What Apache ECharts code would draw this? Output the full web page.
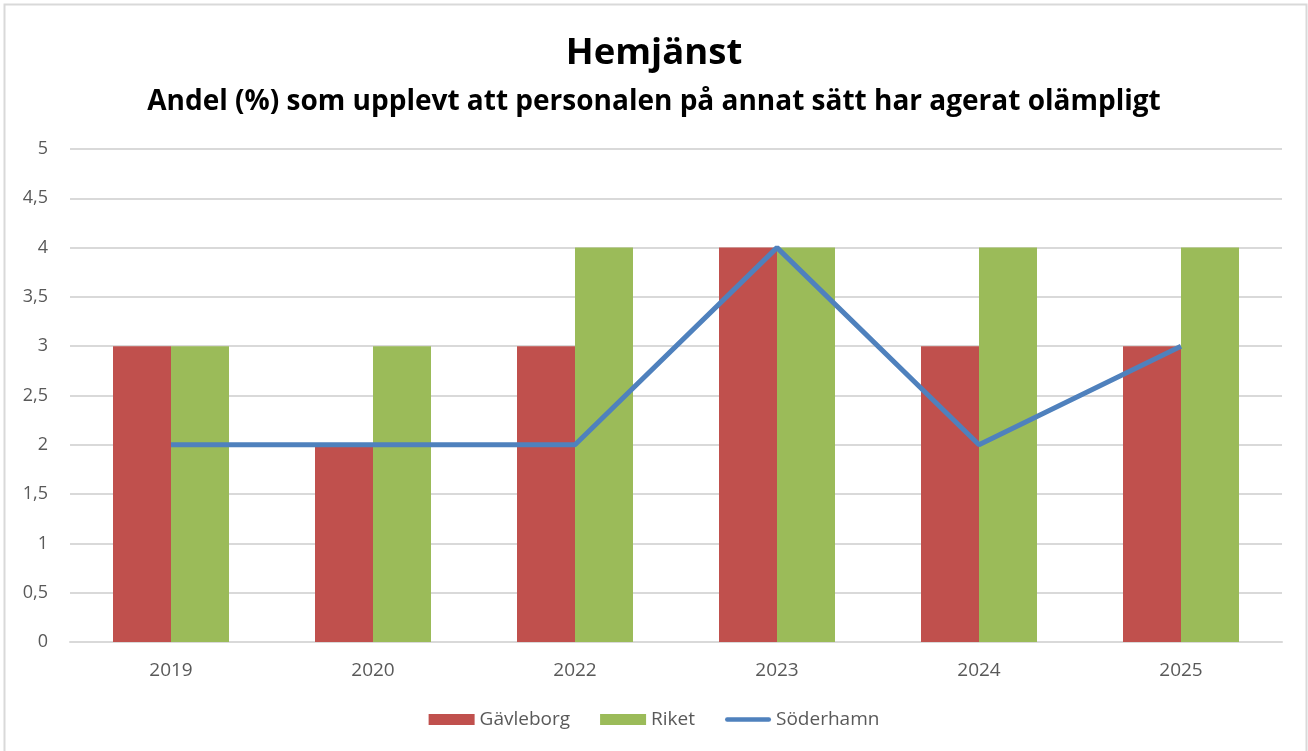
<!DOCTYPE html>
<html>
<head>
<meta charset="utf-8">
<script src="https://cdn.jsdelivr.net/npm/echarts@6/dist/echarts.min.js"></script>
<style>
  html, body { margin: 0; padding: 0; background: #fff; }
  #chart { width: 1308px; height: 751px; }
</style>
</head>
<body>
<div id="chart"></div>
<script>
// Survey years and shares (%) per region
const years = ['2019', '2020', '2022', '2023', '2024', '2025'];
const gavleborg = [3, 2, 3, 4, 3, 3];
const riket = [3, 3, 4, 4, 4, 4];
const soderhamn = [2, 2, 2, 4, 2, 3];

const titleText = 'Hemjänst';
const subtitleText = 'Andel (%) som upplevt att personalen på annat sätt har agerat olämpligt';

const FONT = '"Open Sans", "DejaVu Sans", sans-serif';
const chart = echarts.init(document.getElementById('chart'), null, { renderer: 'canvas' });

chart.setOption({
  backgroundColor: '#ffffff',
  animation: false,
  graphic: [{
    type: 'rect',
    shape: { x: 4.5, y: 4.5, width: 1302, height: 760 },
    style: { fill: 'none', stroke: '#d9d9d9', lineWidth: 2 },
    silent: true
  }],
  title: [{
    text: titleText,
    left: 'center',
    top: 35,
    padding: 0,
    textStyle: { fontFamily: FONT, fontWeight: 'bold', fontSize: 36.5, color: '#000' }
  }, {
    text: subtitleText,
    left: 'center',
    top: 88,
    padding: 0,
    textStyle: { fontFamily: FONT, fontWeight: 'bold', fontSize: 28, color: '#000' }
  }],
  legend: {
    bottom: 22,
    left: 'center',
    itemWidth: 46,
    itemHeight: 11,
    itemGap: 30,
    padding: 0,
    textStyle: { fontFamily: FONT, fontSize: 19, color: '#595959' },
    data: [
      { name: 'Gävleborg', icon: 'rect' },
      { name: 'Riket', icon: 'rect' },
      { name: 'Söderhamn', icon: 'path://M2,0 L50,0 A2.5,2.5 0 0 1 50,5 L2,5 A2.5,2.5 0 0 1 2,0 Z' }
    ]
  },
  grid: { left: 70, right: 26, top: 149, bottom: 109, containLabel: false },
  xAxis: {
    type: 'category',
    data: years,
    axisLine: { show: true, lineStyle: { color: '#d9d9d9', width: 2 } },
    axisTick: { show: false },
    axisLabel: { fontFamily: FONT, fontSize: 19, color: '#595959', margin: 19 }
  },
  yAxis: {
    type: 'value',
    min: 0,
    max: 5,
    interval: 0.5,
    axisLine: { show: false },
    axisTick: { show: false },
    splitLine: { lineStyle: { color: '#d9d9d9', width: 2 } },
    axisLabel: {
      fontFamily: FONT, fontSize: 18, color: '#595959', margin: 22,
      formatter: v => String(v).replace('.', ',')
    }
  },
  series: [{
    name: 'Gävleborg',
    type: 'bar',
    data: gavleborg,
    barWidth: 58,
    barGap: '0%',
    itemStyle: { color: '#c0504d' }
  }, {
    name: 'Riket',
    type: 'bar',
    data: riket,
    barWidth: 58,
    barGap: '0%',
    itemStyle: { color: '#9bbb59' }
  }, {
    name: 'Söderhamn',
    type: 'line',
    data: soderhamn,
    symbol: 'none',
    lineStyle: { color: '#4f81bd', width: 5 },
    itemStyle: { color: '#4f81bd' }
  }]
});
</script>
</body>
</html>
